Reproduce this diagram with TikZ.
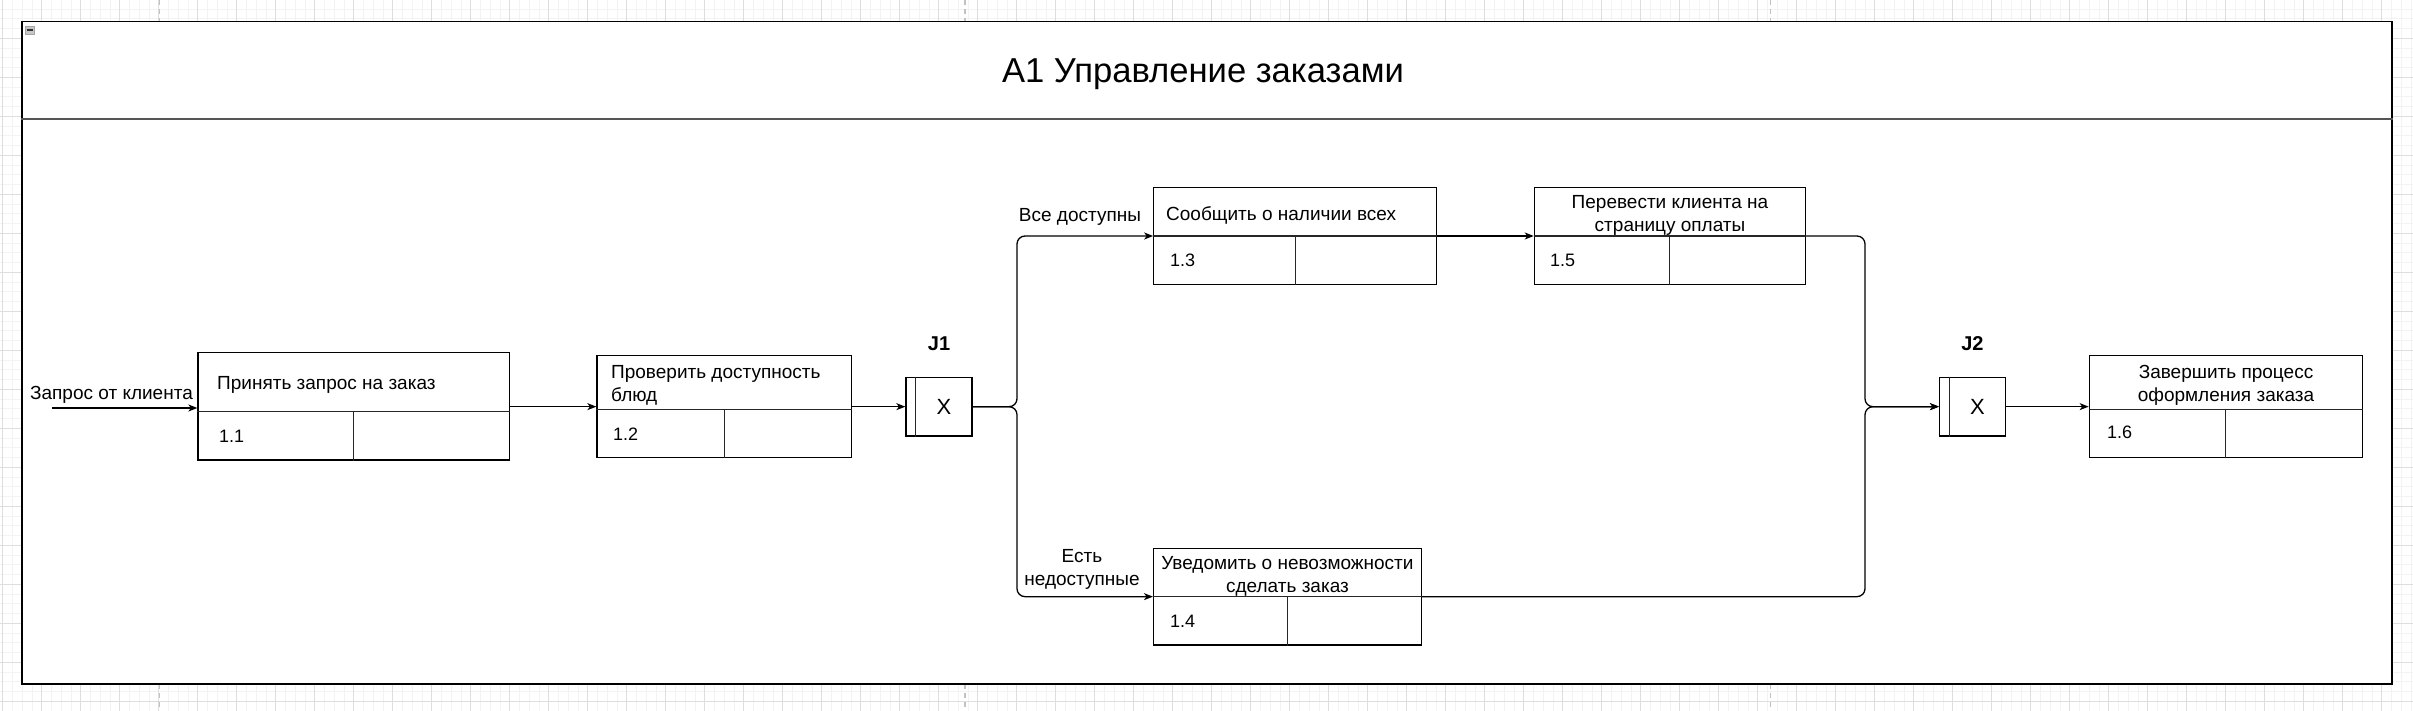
\documentclass[tikz,border=0pt]{standalone}
\usepackage{fontspec}
\setmainfont{Liberation Sans}
\usetikzlibrary{arrows.meta,fit,calc}
\definecolor{gridminor}{HTML}{F3F3F3}
\definecolor{gridmajor}{HTML}{DEDEDE}
\definecolor{pagebrk}{HTML}{C2C2C2}
\definecolor{framegray}{HTML}{555555}
\newcommand{\idefbox}[6]{%
  \node[boxst, fit={(#2,#3) (#4,#5)}] (#1) {};
  \draw[sepline] (#1.west |- 0,#6) -- (#1.east |- 0,#6);
  \draw[sepline] (#1.south) -- (#1.south |- 0,#6);
}
\tikzset{
  boxst/.style={draw, line width=1.3pt, inner sep=0pt, fill=white},
  sepline/.style={line width=1.1pt, draw=black!85},
  arr/.style={line width=1.3pt, -{Stealth[length=9pt,width=7pt,inset=2.5pt]}},
  txt/.style={inner sep=0pt, font=\fontsize{19}{23}\selectfont, text height=13.6pt, text depth=0pt},
  numtxt/.style={inner sep=0pt, font=\fontsize{18}{22}\selectfont, text height=12.9pt, text depth=0pt, anchor=west},
  jlbl/.style={inner sep=0pt, font=\fontsize{20}{24}\selectfont\bfseries, text height=14.3pt, text depth=0pt},
  jx/.style={inner sep=0pt, font=\fontsize{22}{26}\selectfont, text height=15.8pt, text depth=0pt},
  titletxt/.style={inner sep=0pt, font=\fontsize{34.6}{40}\selectfont, text height=24.8pt, text depth=0pt},
}
\begin{document}
\begin{tikzpicture}[x=1pt,y=-1pt]
\useasboundingbox (0,0) rectangle (2413,711);
% canvas grid
\foreach \i in {0,...,247} {\draw[gridminor, line width=0.8pt] ({2.7+9.75*\i},0) -- ({2.7+9.75*\i},711);}
\foreach \j in {1,...,73} {\draw[gridminor, line width=0.8pt] (0,{-0.7+9.75*\j}) -- (2413,{-0.7+9.75*\j});}
\foreach \i in {0,...,61} {\draw[gridmajor, line width=1pt] ({2.7+39*\i},0) -- ({2.7+39*\i},711);}
\foreach \j in {1,...,18} {\draw[gridmajor, line width=1pt] (0,{-0.7+39*\j}) -- (2413,{-0.7+39*\j});}
\foreach \x in {159.3,965,1770.7} {
  \draw[pagebrk, line width=1.3pt, dash pattern=on 5pt off 4pt] (\x,0) -- (\x,711);
}
% frame
\node[fit={(22,21.5) (2392,684)}, inner sep=0pt, draw=black, fill=white, line width=1.5pt] (frame) {};
\draw[framegray, line width=1.8pt] (frame.west |- 0,118.7) -- (frame.east |- 0,118.7);
\node[fit={(25.6,26) (34.4,34.3)}, inner sep=0pt, draw=gray!70, fill=gray!45, line width=0.6pt] (collapse) {};
\draw[black!80, line width=1.6pt] ([xshift=1.3pt]collapse.west) -- ([xshift=-1.3pt]collapse.east);
\node[titletxt] (title) at (1203,70) {А1 Управление заказами};

% activity boxes
\idefbox{B1}{198}{352.7}{509.8}{460}{411.3}
\idefbox{B2}{597}{355.3}{851.3}{457.3}{409.3}
\idefbox{B3}{1153.8}{187.3}{1436.3}{284.7}{236}
\idefbox{B5}{1534.4}{187.3}{1805.2}{284.7}{236}
\idefbox{B4}{1153.6}{548.3}{1421.4}{645}{596.7}
\idefbox{B6}{2089.3}{355.7}{2362.2}{457.7}{409.3}

% junctions
\node[boxst, fit={(906,377.3) (972,436)}] (J1) {};
\draw[sepline] ([xshift=9.7pt]J1.north west) -- ([xshift=9.7pt]J1.south west);
\node[jx] (J1x) at (944,406.7) {X};
\node[jlbl] (J1l) at (939,343.5) {J1};
\node[boxst, fit={(1939.6,377.3) (2005.2,436)}] (J2) {};
\draw[sepline] ([xshift=10.1pt]J2.north west) -- ([xshift=10.1pt]J2.south west);
\node[jx] (J2x) at (1977.5,406.7) {X};
\node[jlbl] (J2l) at (1972.4,343.5) {J2};

% box texts (multi-line nodes are placed by their last line)
\node[txt, anchor=west] (t1) at (217,383) {Принять запрос на заказ};
\node[txt, anchor=west, align=left] (t2) at (611,394.3) {Проверить доступность\\блюд};
\node[txt, anchor=west] (t3) at (1166,214) {Сообщить о наличии всех};
\node[txt, align=center] (t5) at (1670,225) {Перевести клиента на\\страницу оплаты};
\node[txt, align=center] (t4) at (1287.5,585.7) {Уведомить о невозможности\\сделать заказ};
\node[txt, align=center] (t6) at (2226,394.3) {Завершить процесс\\оформления заказа};
\node[numtxt] (n1) at (219,436) {1.1};
\node[numtxt] (n2) at (613,434) {1.2};
\node[numtxt] (n3) at (1170,260) {1.3};
\node[numtxt] (n5) at (1550,260) {1.5};
\node[numtxt] (n4) at (1170,621) {1.4};
\node[numtxt] (n6) at (2107,432.5) {1.6};

% connectors
\coordinate (src) at (52,408);
\node[txt] (lin) at (111.5,393) {Запрос от клиента};
\draw[arr] (src) -- (src -| B1.west);
\draw[arr] (B1.east |- J1) -- (B2.west |- J1);
\draw[arr] (B2.east |- J1) -- (J1.west);
\coordinate (s1) at (1017,406.7);
\draw[arr, rounded corners=8pt] (J1.east) -- (s1) |- (B3.west);
\draw[arr, rounded corners=8pt] (J1.east) -- (s1) |- (B4.west);
\draw[arr] (B3.east) -- (B5.west);
\coordinate (m1) at (1865,406.7);
\draw[arr, rounded corners=8pt] (B5.east) -| (m1) -- (J2.west);
\draw[arr, rounded corners=8pt] (B4.east) -| (m1) -- (J2.west);
\draw[arr] (J2.east) -- (J2.east -| B6.west);
\node[txt] (lyes) at (1080,215) {Все доступны};
\node[txt, align=center] (lno) at (1082,578.3) {Есть\\недоступные};
\end{tikzpicture}
\end{document}
